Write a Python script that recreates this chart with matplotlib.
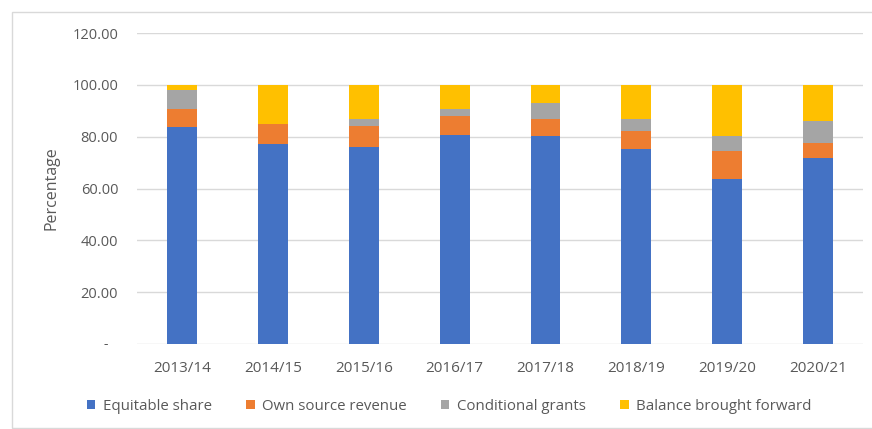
#!/usr/bin/env python3

import numpy as np
import matplotlib
matplotlib.use('Agg')
import matplotlib.pyplot as plt
from matplotlib.patches import Rectangle

years = ['2013/14', '2014/15', '2015/16', '2016/17', '2017/18', '2018/19', '2019/20', '2020/21']
equitable_share = [83.8, 77.0, 75.9, 80.8, 80.2, 75.4, 63.7, 71.6]
own_source_revenue = [6.7, 8.0, 8.2, 7.1, 6.5, 6.7, 10.7, 6.0]
conditional_grants = [7.5, 0.0, 2.8, 2.9, 6.4, 4.8, 5.8, 8.4]
balance_forward = [2.0, 15.0, 13.1, 9.2, 6.9, 13.1, 19.8, 14.0]

series = [
	('Equitable share', equitable_share, '#4472C4'),
	('Own source revenue', own_source_revenue, '#ED7D31'),
	('Conditional grants', conditional_grants, '#A5A5A5'),
	('Balance brought forward', balance_forward, '#FFC000'),
]

plt.rcParams['font.family'] = ['Open Sans', 'DejaVu Sans']
txt = '#595959'

fig = plt.figure(figsize=(8.72, 4.29), dpi=100)
ax = fig.add_axes([0.157, 0.198, 0.833, 0.725])

x = np.arange(len(years))
bottom = np.zeros(len(years))
for name, vals, col in series:
	vals = np.array(vals)
	ax.bar(x, vals, width=0.33, bottom=bottom, color=col, label=name, zorder=2)
	bottom += vals

ax.set_xlim(-0.5, len(years) - 0.5)
ax.set_ylim(0, 120)
yt = np.arange(0, 121, 20)
ax.set_yticks(yt)
# accounting style: zero shows as a dash set in from the right
ax.set_yticklabels(['' if v == 0 else f'{v:.2f}' for v in yt])
ax.annotate('-', xy=(0, 0), xycoords=('axes fraction', 'data'), xytext=(-31, 0),
	textcoords='offset pixels', ha='center', va='center', color=txt, fontsize=10)
ax.set_xticks(x)
ax.set_xticklabels(years)
ax.tick_params(axis='both', length=0, colors=txt)
ax.tick_params(axis='y', pad=13.5, labelsize=10.5)
ax.tick_params(axis='x', pad=12, labelsize=11)
ax.grid(axis='y', color='#D9D9D9', linewidth=1, zorder=0)
for s in ax.spines.values():
	s.set_visible(False)
ax.set_ylabel('Percentage', color=txt, fontsize=11.5, labelpad=9)

ax.legend(loc='center', bbox_to_anchor=(0.43, -0.2), ncol=4, frameon=False,
	fontsize=10.8, handlelength=0.55, handleheight=0.55, handletextpad=0.5, columnspacing=2.3,
	labelcolor=txt)

# light frame round the chart area
fig.patches.append(Rectangle((12 / 872, 1 / 429), 1.0, 416 / 429, transform=fig.transFigure,
	fill=False, edgecolor='#D9D9D9', linewidth=1))

fig.savefig('out.png', dpi=100)
plt.close(fig)
